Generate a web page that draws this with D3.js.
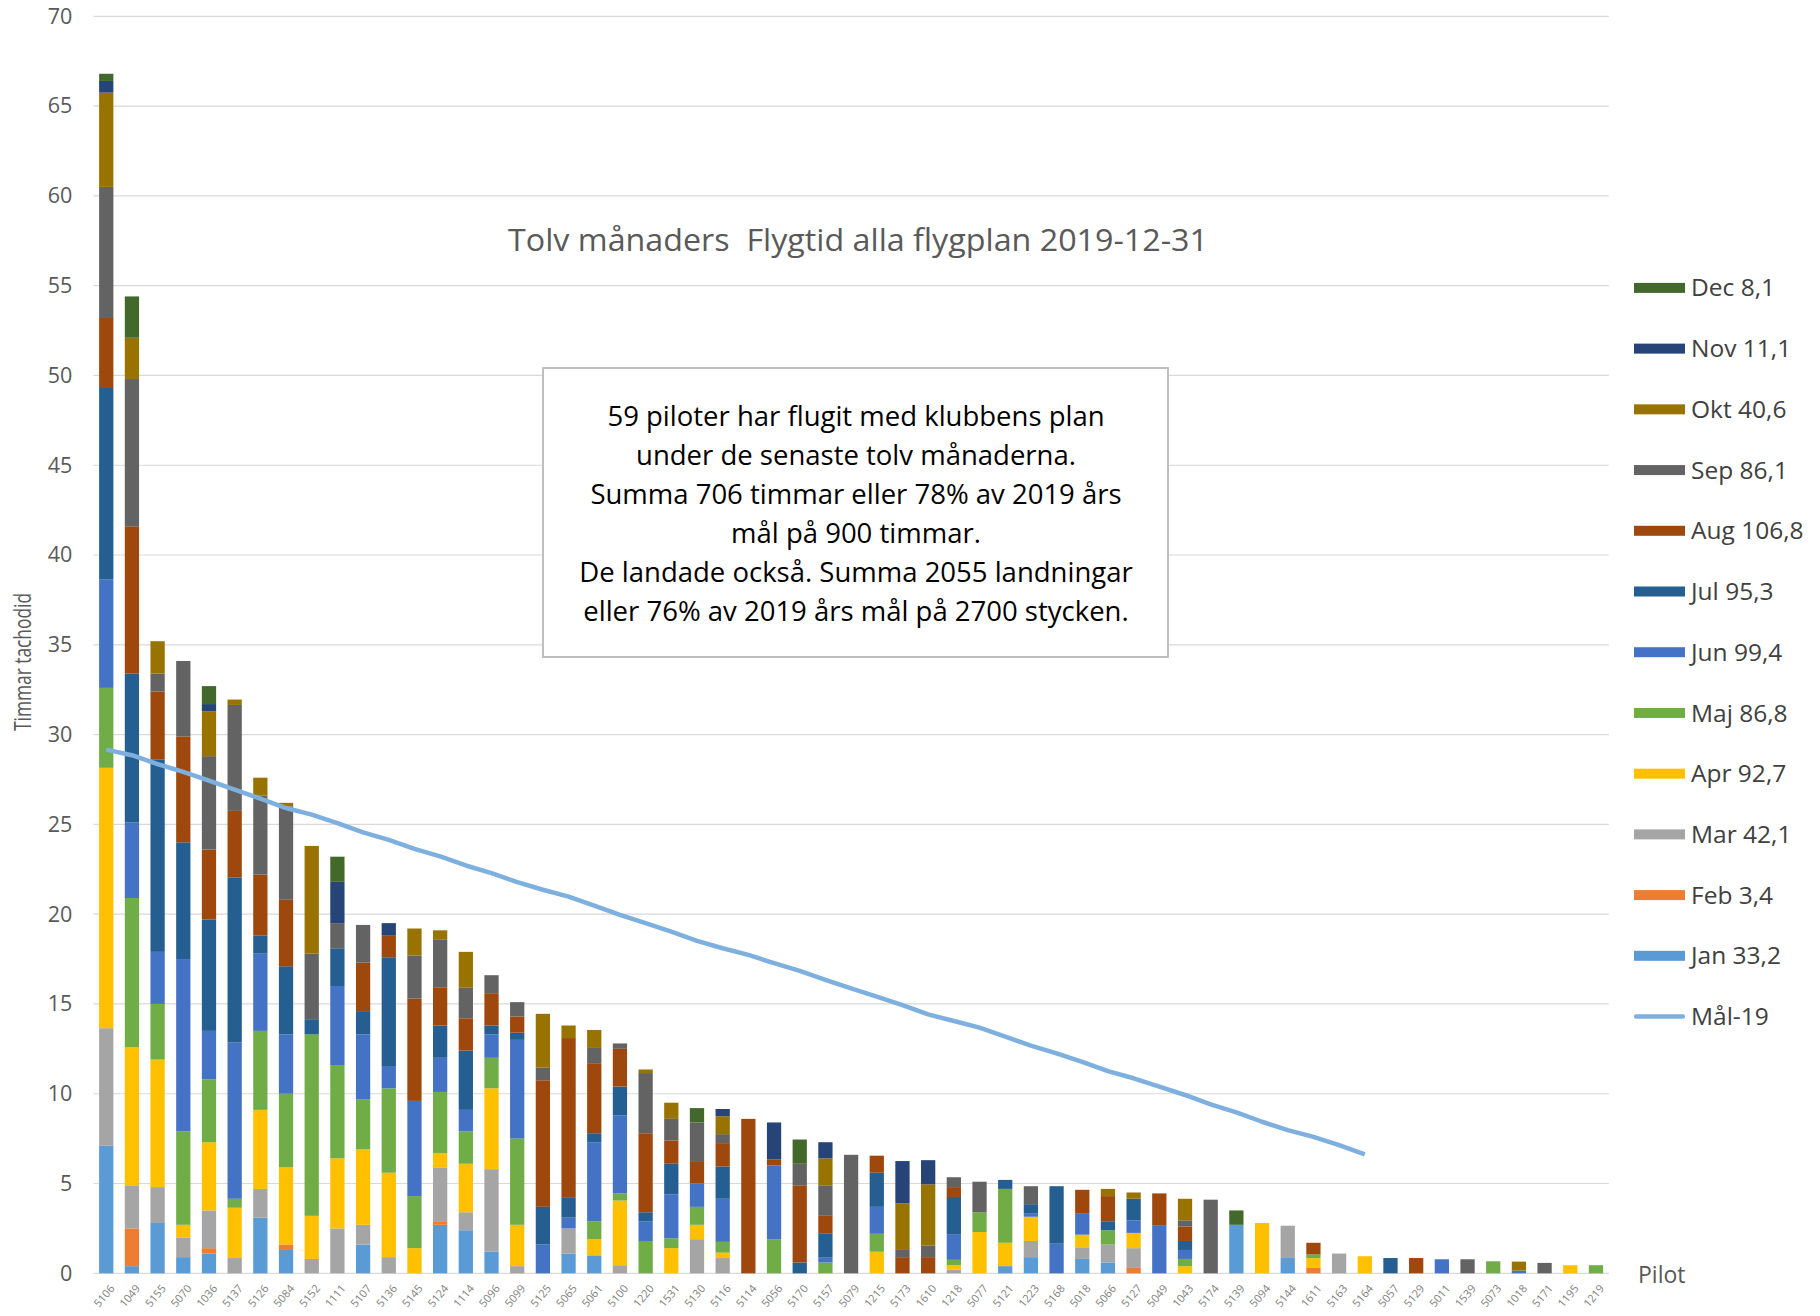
<!DOCTYPE html>
<html><head><meta charset="utf-8">
<script src="https://cdn.jsdelivr.net/npm/d3@7"></script>
<style>body{margin:0;background:#fff}</style>
</head><body><svg id="c" width="1820" height="1316"></svg>
<script>
const pilots = ["5106","1049","5155","5070","1036","5137","5126","5084","5152","1111",
"5107","5136","5145","5124","1114","5096","5099","5125","5065","5061",
"5100","1220","1531","5130","5116","5114","5056","5170","5157","5079",
"1215","5173","1610","1218","5077","5121","1223","5168","5018","5066",
"5127","5049","1043","5174","5139","5094","5144","1611","5163","5164",
"5057","5129","5011","1539","5073","1018","5171","1195","1219"];

const Jan = [7.1,0.4,2.8,0.9,1.1,0,3.1,1.3,0,0, 1.6,0,0,2.7,2.4,1.2,0,0,1.1,1.0, 0,0,0,0,0,0,0,0,0,0, 0,0,0,0,0,0.4,0.9,0,0.8,0.6, 0,0,0,0,2.7,0,0.85,0,0,0, 0,0,0,0,0,0,0,0,0];
const Feb = [0,2.1,0,0,0.3,0,0,0.3,0,0, 0,0,0,0.2,0,0,0,0,0,0, 0,0,0,0,0,0,0,0,0,0, 0,0,0,0,0,0,0,0,0,0, 0.3,0,0,0,0,0,0,0.3,0,0, 0,0,0,0,0,0,0,0,0];
const Mar = [6.55,2.4,2.0,1.1,2.1,0.85,1.6,0,0.8,2.5, 1.1,0.9,0,3.0,1.0,4.6,0.4,0,1.4,0, 0.45,0,0,1.9,0.85,0,0,0,0,0, 0,0,0,0.2,0,0,0.9,0,0.65,1.0, 1.1,0,0,0,0,0,1.8,0,1.1,0, 0,0,0,0,0,0,0,0,0];
const Apr = [14.5,7.7,7.1,0.7,3.8,2.8,4.4,4.3,2.4,3.9, 4.2,4.7,1.4,0.8,2.7,4.5,2.3,0,0,0.9, 3.6,0,1.4,0.8,0.3,0,0,0,0,0, 1.2,0,0,0.25,2.3,1.3,1.35,0,0.7,0, 0.85,0,0.4,0,0,2.8,0,0.55,0,0.95, 0,0,0,0,0,0,0,0.45,0];
const Maj = [4.45,8.3,3.1,5.2,3.5,0.5,4.4,4.1,10.1,5.2, 2.8,4.7,2.9,3.4,1.8,1.7,4.8,0,0,1.0, 0.4,1.8,0.55,1.0,0.6,0,1.9,0,0.6,0, 1.0,0,0,0.3,1.1,3.0,0,0,0,0.8, 0,0,0.4,0,0,0,0,0.2,0,0, 0,0,0,0,0.67,0,0,0,0.45];
const Jun = [6.05,4.2,2.9,9.6,2.7,8.7,4.3,3.3,0,4.4, 3.6,1.2,5.3,1.9,1.2,1.3,5.5,1.6,0.6,4.4, 4.35,1.1,2.45,1.3,2.4,0,4.1,0,0.3,0, 1.5,0,0,1.4,0,0,0.2,1.65,1.2,0, 0.7,2.65,0.5,0,0,0,0,0,0,0, 0,0,0.78,0,0,0.15,0,0,0];
const Jul = [10.65,8.3,10.7,6.5,6.2,9.2,1.0,3.8,0.85,2.1, 1.3,6.1,0,1.8,3.3,0.5,0.4,2.1,1.1,0.5, 1.6,0.5,1.7,0,1.8,0,0,0.6,1.3,0, 1.9,0,0,2.1,0,0.5,0.5,3.2,0,0.5, 1.2,0,0.5,0,0,0,0,0,0,0, 0.85,0,0,0,0,0,0,0,0];
const Aug = [3.9,8.2,3.8,5.9,3.9,3.7,3.4,3.7,0,0, 2.7,1.2,5.7,2.1,1.8,1.8,0.9,7.05,8.9,3.9, 2.1,4.4,1.3,1.2,1.3,8.6,0.35,4.3,1.0,0, 0.95,0.9,0.9,0.55,0,0,0,0,1.3,1.4, 0,1.8,0.8,0,0,0,0,0.65,0,0, 0,0.85,0,0,0,0,0,0,0];
const Sep = [7.3,8.2,1.0,4.2,5.2,5.9,4.4,5.2,3.65,1.4, 2.1,0,2.4,2.7,1.7,1.0,0.8,0.7,0,0.85, 0.3,3.35,1.2,2.2,0.5,0,0,1.2,1.7,6.6, 0,0.4,0.65,0.55,1.7,0,1.0,0,0,0, 0,0,0.35,4.1,0,0,0,0,0,0, 0,0,0,0.78,0,0,0.58,0,0];
const Okt = [5.25,2.3,1.8,0,2.5,0.3,1.0,0.2,6.0,0, 0,0,1.5,0.5,2.0,0,0,3.0,0.7,1.0, 0,0.2,0.9,0,1.0,0,0,0,1.5,0, 0,2.6,3.4,0,0,0,0,0,0,0.4, 0.35,0,1.2,0,0,0,0,0,0,0, 0,0,0,0,0,0.5,0,0,0];
const Nov = [0.65,0,0,0,0.4,0,0,0,0,2.3, 0,0.7,0,0,0,0,0,0,0,0, 0,0,0,0,0.4,0,2.05,0,0.9,0, 0,2.35,1.35,0,0,0,0,0,0,0, 0,0,0,0,0,0,0,0,0,0, 0,0,0,0,0,0,0,0,0];
const Dec = [0.4,2.3,0,0,1.0,0,0,0,0,1.4, 0,0,0,0,0,0,0,0,0,0, 0,0,0,0.8,0,0,0,1.35,0,0, 0,0,0,0,0,0,0,0,0,0, 0,0,0,0,0.8,0,0,0,0,0, 0,0,0,0,0,0,0,0,0];

const goal = [29.16,28.85,28.36,27.92,27.43,26.93,26.43,25.91,25.54,25.07,
 24.55,24.14,23.64,23.22,22.71,22.29,21.78,21.36,20.98,20.48,
 19.96,19.5,19.03,18.51,18.1,17.73,17.27,16.84,16.34,15.87,
 15.41,14.94,14.42,14.05,13.68,13.18,12.68,12.25,11.78,11.26,
 10.86,10.39,9.93,9.41,8.96,8.44,7.97,7.6,7.14,6.62];

const months = ["Jan","Feb","Mar","Apr","Maj","Jun","Jul","Aug","Sep","Okt","Nov","Dec"];
const monthTotals = ["33,2","3,4","42,1","92,7","86,8","99,4","95,3","106,8","86,1","40,6","11,1","8,1"];
const monthColors = ["#5B9BD5","#ED7D31","#A5A5A5","#FFC000","#70AD47","#4472C4","#255E91","#9E480E","#636363","#997300","#264478","#43682B"];
const goalLabel = "Mål-19";
const goalColor = "#7DB0DE";
const yTicks = [0,5,10,15,20,25,30,35,40,45,50,55,60,65,70];

const titleText = "Tolv månaders  Flygtid alla flygplan 2019-12-31";
const yTitle = "Timmar tachodid";
const xTitle = "Pilot";
const boxLines = ["59 piloter har flugit med klubbens plan",
 "under de senaste tolv månaderna.",
 "Summa 706 timmar eller 78% av 2019 års",
 "mål på 900 timmar.",
 "De landade också. Summa 2055 landningar",
 "eller 76% av 2019 års mål på 2700 stycken."];

const seriesByMonth = {Jan,Feb,Mar,Apr,Maj,Jun,Jul,Aug,Sep,Okt,Nov,Dec};
const rows = pilots.map((p,i) => {
  const r = {pilot:p};
  months.forEach(m => r[m] = seriesByMonth[m][i]);
  return r;
});

const svg = d3.select("#c");
const FONT = "'Open Sans', 'Noto Sans', sans-serif";
const L = 93.4, R = 1608.8, T = 16.3, B = 1273.3;

const x = d3.scaleBand().domain(pilots).range([L,R]).paddingInner(0.8/1.8).paddingOuter(0.4/1.8);
const y = d3.scaleLinear().domain([0,70]).range([B,T]);
const color = d3.scaleOrdinal().domain(months).range(monthColors);

// gridlines
svg.append("g").selectAll("line").data(yTicks).join("line")
  .attr("x1",L).attr("x2",R).attr("y1",d=>y(d)).attr("y2",d=>y(d))
  .attr("stroke","#d9d9d9").attr("stroke-width",1.2);

// y axis
const yAxis = svg.append("g").attr("transform",`translate(${L},0)`)
  .call(d3.axisLeft(y).tickValues(yTicks).tickSize(0).tickPadding(21));
yAxis.select(".domain").remove();
yAxis.selectAll("text").attr("font-family",FONT).attr("font-size",21.5).attr("fill","#595959");

// stacked bars
const stacked = d3.stack().keys(months)(rows);
svg.append("g").selectAll("g").data(stacked).join("g")
  .attr("fill", d => color(d.key))
  .selectAll("rect").data(d => d).join("rect")
  .attr("x", d => x(d.data.pilot))
  .attr("width", x.bandwidth())
  .attr("y", d => y(d[1]))
  .attr("height", d => Math.max(0, y(d[0]) - y(d[1])));

// x axis labels
const xAxis = svg.append("g").attr("transform",`translate(0,${B})`)
  .call(d3.axisBottom(x).tickSize(0));
xAxis.select(".domain").remove();
xAxis.selectAll("text")
  .attr("x",0).attr("y",0).attr("dy","0.35em")
  .attr("transform","translate(6,13) rotate(-50)")
  .attr("text-anchor","end")
  .attr("font-family",FONT).attr("font-size",11).attr("fill","#7f7f7f");

// goal line
const goalFull = pilots.map((p,i) => i < goal.length ? goal[i] : null);
svg.append("path").datum(goalFull)
  .attr("fill","none").attr("stroke",goalColor).attr("stroke-width",4.5).attr("stroke-linejoin","round")
  .attr("d", d3.line().defined(d => d != null).x((d,i) => x(pilots[i]) + x.bandwidth()/2).y(d => y(d)));

// title
svg.append("text").attr("x",858).attr("y",251).attr("text-anchor","middle")
  .attr("font-family",FONT).attr("font-size",31).attr("fill","#595959")
  .attr("textLength",700).attr("lengthAdjust","spacingAndGlyphs")
  .style("white-space","pre").text(titleText);

// y title
svg.append("text").attr("transform","translate(31,662) rotate(-90)").attr("text-anchor","middle")
  .attr("font-family",FONT).attr("font-size",23).attr("fill","#595959")
  .attr("textLength",138).attr("lengthAdjust","spacingAndGlyphs").text(yTitle);

// x title
svg.append("text").attr("x",1638).attr("y",1283)
  .attr("font-family",FONT).attr("font-size",23).attr("fill","#595959").text(xTitle);

// text box
svg.append("rect").attr("x",543).attr("y",368).attr("width",625).attr("height",289)
  .attr("fill","#fff").attr("stroke","#bfbfbf").attr("stroke-width",2);
svg.append("g").selectAll("text").data(boxLines).join("text")
  .attr("x",856).attr("y",(d,i)=>426+i*39).attr("text-anchor","middle")
  .attr("font-family",FONT).attr("font-size",27.5).attr("fill","#000").text(d=>d);

// legend
const legendItems = months.map((m,i)=>({label:`${m} ${monthTotals[i]}`, color:monthColors[i], line:false})).reverse()
  .concat([{label:goalLabel, color:goalColor, line:true}]);
const lg = svg.append("g").selectAll("g").data(legendItems).join("g")
  .attr("transform",(d,i)=>`translate(1634,${287.9 + i*60.72})`);
lg.append("rect").attr("x",0).attr("width",51)
  .attr("y",d=>d.line? -2.2 : -5).attr("height",d=>d.line?4.5:10)
  .attr("rx",d=>d.line?2:0)
  .attr("fill",d=>d.color);
lg.append("text").attr("x",57).attr("dy","0.35em")
  .attr("font-family",FONT).attr("font-size",24.5).attr("fill","#404040").text(d=>d.label);
</script></body></html>
